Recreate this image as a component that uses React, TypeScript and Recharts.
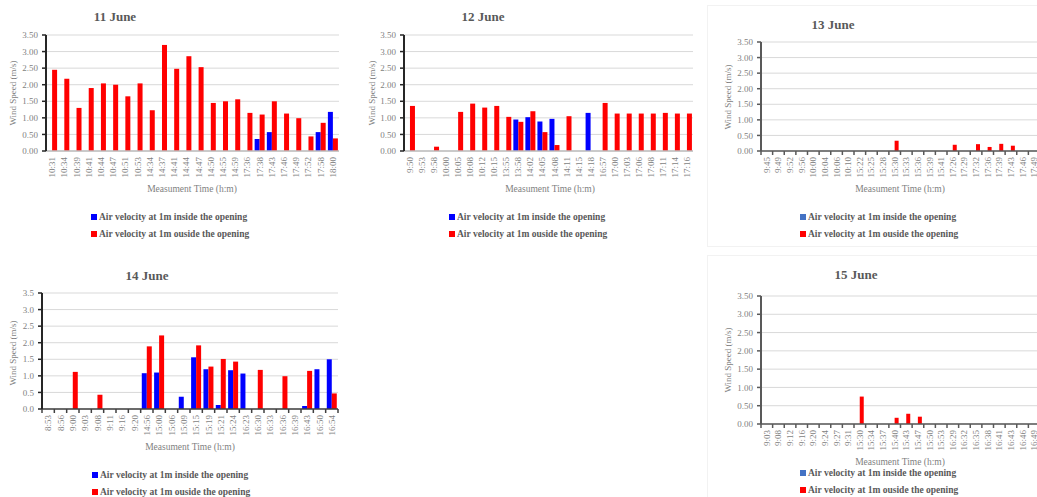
import React from 'react';
import { BarChart, Bar, XAxis, YAxis, CartesianGrid, Legend } from 'recharts';

const FONT = "'Liberation Serif', 'Times New Roman', serif";

const yTicks = [0, 0.5, 1, 1.5, 2, 2.5, 3, 3.5];

const june11Times = ['10:31', '10:34', '10:39', '10:41', '10:44', '10:47', '10:51', '10:53', '14:34', '14:37', '14:41', '14:44', '14:47', '14:50', '14:55', '14:59', '17:36', '17:38', '17:43', '17:46', '17:49', '17:52', '17:58', '18:00'];
const june11Inside = [0, 0, 0, 0, 0, 0, 0, 0, 0, 0, 0, 0, 0, 0, 0, 0, 0, 0.36, 0.57, 0, 0, 0, 0.57, 1.18];
const june11Outside = [2.45, 2.18, 1.3, 1.9, 2.04, 2.0, 1.65, 2.04, 1.23, 3.2, 2.48, 2.86, 2.53, 1.45, 1.5, 1.56, 1.15, 1.1, 1.5, 1.13, 0.99, 0.44, 0.85, 0.38];

const june12Times = ['9:50', '9:53', '9:58', '10:00', '10:05', '10:08', '10:12', '10:15', '13:55', '13:58', '14:02', '14:05', '14:08', '14:11', '14:15', '14:18', '16:57', '17:00', '17:03', '17:06', '17:08', '17:11', '17:14', '17:16'];
const june12Inside = [0, 0, 0, 0, 0, 0, 0, 0, 0, 0.95, 1.02, 0.89, 0.97, 0, 0, 1.15, 0, 0, 0, 0, 0, 0, 0, 0];
const june12Outside = [1.36, 0, 0.13, 0, 1.18, 1.43, 1.31, 1.36, 1.03, 0.88, 1.2, 0.57, 0.18, 1.05, 0, 0, 1.45, 1.13, 1.13, 1.13, 1.13, 1.15, 1.13, 1.13];

const june13Times = ['9:45', '9:49', '9:52', '9:56', '10:00', '10:04', '10:06', '10:10', '15:22', '15:25', '15:28', '15:30', '15:33', '15:36', '15:39', '15:41', '17:26', '17:29', '17:32', '17:36', '17:39', '17:43', '17:46', '17:49'];
const june13Inside = [0, 0, 0, 0, 0, 0, 0, 0, 0, 0, 0, 0, 0, 0, 0, 0, 0, 0, 0, 0, 0, 0, 0, 0];
const june13Outside = [0, 0, 0, 0, 0, 0, 0, 0, 0, 0, 0, 0.33, 0, 0, 0, 0, 0.2, 0, 0.22, 0.13, 0.23, 0.17, 0, 0];

const june14Times = ['8:53', '8:56', '9:00', '9:03', '9:08', '9:11', '9:16', '9:20', '14:56', '15:00', '15:06', '15:09', '15:15', '15:19', '15:21', '15:24', '16:23', '16:30', '16:33', '16:36', '16:39', '16:43', '16:50', '16:54'];
const june14Inside = [0, 0, 0, 0, 0, 0, 0, 0, 1.08, 1.1, 0, 0.37, 1.56, 1.2, 0.12, 1.17, 1.07, 0, 0, 0, 0, 0.09, 1.2, 1.5];
const june14Outside = [0, 0, 1.12, 0, 0.43, 0, 0, 0, 1.89, 2.22, 0, 0, 1.92, 1.28, 1.51, 1.43, 0, 1.18, 0, 0.99, 0, 1.15, 0, 0.47];

const june15Times = ['9:03', '9:08', '9:12', '9:16', '9:20', '9:24', '9:27', '9:31', '15:30', '15:34', '15:37', '15:40', '15:43', '15:47', '15:50', '15:53', '16:29', '16:32', '16:35', '16:38', '16:41', '16:43', '16:46', '16:49'];
const june15Inside = [0, 0, 0, 0, 0, 0, 0, 0, 0, 0, 0, 0, 0, 0, 0, 0, 0, 0, 0, 0, 0, 0, 0, 0];
const june15Outside = [0, 0, 0, 0, 0, 0, 0, 0, 0.75, 0, 0, 0.17, 0.28, 0.2, 0, 0, 0, 0, 0, 0, 0, 0, 0, 0];

const insideName = 'Air velocity at 1m inside the opening';
const outsideName = 'Air velocity at 1m ouside the opening';

type PanelProps = {
  left: number;
  top: number;
  width: number;
  height: number;
  title: string;
  titleX: number;
  titleY: number;
  times: string[];
  inside: number[];
  outside: number[];
  axisX: number;
  plotTop: number;
  plotBottom: number;
  plotRight: number;
  decimals: number;
  xTitleX: number;
  xTitleY: number;
  yTitleX: number;
  yTitleY: number;
  legendX: number;
  legendY: number;
  insideColor: string;
  legendInsideColor: string;
  xTickMarks: boolean;
  xAxisColor: string;
  yAxisColor: string;
  catGap: string;
  border: boolean;
};

const textGray = '#7f7f7f';

function Panel(p: PanelProps) {
  const data = p.times.map((t, i) => ({ time: t, inside: p.inside[i], outside: p.outside[i] }));
  const n = p.times.length;
  const bw = (p.plotRight - p.axisX) / n;
  const xAxisH = 30;

  const XTick = (props: any) => {
    const { x, y, payload, index } = props;
    const ty = y + 6;
    return (
      <g>
        {p.xTickMarks && (
          <line x1={x - bw / 2} x2={x - bw / 2} y1={y} y2={y + 4} stroke={p.xAxisColor} strokeWidth={1.5} />
        )}
        {p.xTickMarks && index === n - 1 && (
          <line x1={x + bw / 2} x2={x + bw / 2} y1={y} y2={y + 4} stroke={p.xAxisColor} strokeWidth={1.5} />
        )}
        <text
          x={x}
          y={ty}
          transform={`rotate(-90 ${x} ${ty})`}
          textAnchor="end"
          dominantBaseline="central"
          fontSize={9}
          fill={textGray}
          fontFamily={FONT}
        >
          {payload.value}
        </text>
      </g>
    );
  };

  const legendContent = () => (
    <div style={{ fontFamily: FONT, fontSize: 9.5, fontWeight: 'bold', color: '#595959', whiteSpace: 'nowrap' }}>
      {[
        { c: p.legendInsideColor, t: insideName },
        { c: '#FF0000', t: outsideName },
      ].map((it) => (
        <div key={it.t} style={{ height: 17, display: 'flex', alignItems: 'center' }}>
          <span style={{ display: 'inline-block', width: 6, height: 6, background: it.c, marginRight: 2 }} />
          <span>{it.t}</span>
        </div>
      ))}
    </div>
  );

  return (
    <div style={{ position: 'absolute', left: p.left, top: p.top, width: p.width, height: p.height }}>
      {p.border && (
        <div
          style={{
            position: 'absolute',
            left: 0,
            top: 0,
            width: p.width + 20,
            height: p.height - 1,
            border: '1px solid #f2f2f2',
            boxSizing: 'border-box',
          }}
        />
      )}
      <BarChart
        width={p.width}
        height={p.height}
        data={data}
        margin={{ top: p.plotTop, right: p.width - p.plotRight, left: 0, bottom: p.height - p.plotBottom - xAxisH }}
        barGap={0}
        barCategoryGap={p.catGap}
      >
        <CartesianGrid vertical={false} stroke="#d9d9d9" strokeWidth={1} />
        <XAxis
          dataKey="time"
          interval={0}
          height={xAxisH}
          tickLine={false}
          tickSize={0}
          tickMargin={0}
          axisLine={{ stroke: p.xAxisColor, strokeWidth: 1.5 }}
          tick={<XTick />}
        />
        <YAxis
          width={p.axisX}
          domain={[0, 3.5]}
          ticks={yTicks}
          interval={0}
          tickFormatter={(v: number) => v.toFixed(p.decimals)}
          tick={{ fontSize: 9, fill: textGray, fontFamily: FONT }}
          tickSize={4}
          tickMargin={4}
          tickLine={{ stroke: p.yAxisColor, strokeWidth: 1.5 }}
          axisLine={{ stroke: p.yAxisColor, strokeWidth: 2 }}
        />
        <Legend
          layout="vertical"
          align="center"
          verticalAlign="middle"
          content={legendContent}
          wrapperStyle={{ left: p.legendX - 3, top: p.legendY - 8.5, width: 'auto' }}
        />
        <Bar dataKey="inside" name={insideName} fill={p.insideColor} isAnimationActive={false} />
        <Bar dataKey="outside" name={outsideName} fill="#FF0000" isAnimationActive={false} />
      </BarChart>
      <div
        style={{
          position: 'absolute',
          left: p.titleX,
          top: p.titleY,
          transform: 'translate(-50%, -50%)',
          fontFamily: FONT,
          fontWeight: 'bold',
          fontSize: 13,
          color: '#595959',
          whiteSpace: 'nowrap',
        }}
      >
        {p.title}
      </div>
      <div
        style={{
          position: 'absolute',
          left: p.xTitleX,
          top: p.xTitleY,
          transform: 'translate(-50%, -50%)',
          fontFamily: FONT,
          fontSize: 9.5,
          color: textGray,
          whiteSpace: 'nowrap',
        }}
      >
        Measument Time (h:m)
      </div>
      <div
        style={{
          position: 'absolute',
          left: p.yTitleX,
          top: p.yTitleY,
          transform: 'translate(-50%, -50%) rotate(-90deg)',
          fontFamily: FONT,
          fontSize: 9,
          color: textGray,
          whiteSpace: 'nowrap',
        }}
      >
        Wind Speed (m/s)
      </div>
    </div>
  );
}

export default function App() {
  return (
    <div
      style={{
        position: 'absolute',
        left: 0,
        top: 0,
        width: 1037,
        height: 497,
        overflow: 'hidden',
        background: '#ffffff',
      }}
    >
      <Panel
        left={0}
        top={0}
        width={345}
        height={250}
        title="11 June"
        titleX={115}
        titleY={17}
        times={june11Times}
        inside={june11Inside}
        outside={june11Outside}
        axisX={46}
        plotTop={35}
        plotBottom={151}
        plotRight={339}
        decimals={2}
        xTitleX={192}
        xTitleY={189}
        yTitleX={13}
        yTitleY={93}
        legendX={94}
        legendY={217}
        insideColor="#0000FF"
        legendInsideColor="#0000FF"
        xTickMarks={false}
        xAxisColor="#bfbfbf"
        yAxisColor="#262626"
        catGap="9%"
        border={false}
      />
      <Panel
        left={350}
        top={0}
        width={350}
        height={250}
        title="12 June"
        titleX={133}
        titleY={17}
        times={june12Times}
        inside={june12Inside}
        outside={june12Outside}
        axisX={54}
        plotTop={35}
        plotBottom={151}
        plotRight={343}
        decimals={2}
        xTitleX={200}
        xTitleY={189}
        yTitleX={22}
        yTitleY={93}
        legendX={102}
        legendY={217}
        insideColor="#0000FF"
        legendInsideColor="#0000FF"
        xTickMarks={false}
        xAxisColor="#bfbfbf"
        yAxisColor="#262626"
        catGap="8%"
        border={false}
      />
      <Panel
        left={707}
        top={5}
        width={345}
        height={243}
        title="13 June"
        titleX={126}
        titleY={20}
        times={june13Times}
        inside={june13Inside}
        outside={june13Outside}
        axisX={54}
        plotTop={37}
        plotBottom={146}
        plotRight={333}
        decimals={2}
        xTitleX={193}
        xTitleY={184}
        yTitleX={21}
        yTitleY={92}
        legendX={96}
        legendY={212}
        insideColor="#4472C4"
        legendInsideColor="#4472C4"
        xTickMarks={true}
        xAxisColor="#595959"
        yAxisColor="#595959"
        catGap="15%"
        border={true}
      />
      <Panel
        left={0}
        top={260}
        width={345}
        height={237}
        title="14 June"
        titleX={147}
        titleY={16}
        times={june14Times}
        inside={june14Inside}
        outside={june14Outside}
        axisX={42}
        plotTop={33}
        plotBottom={149}
        plotRight={338}
        decimals={1}
        xTitleX={190}
        xTitleY={187}
        yTitleX={13}
        yTitleY={93}
        legendX={95}
        legendY={215}
        insideColor="#0000FF"
        legendInsideColor="#0000FF"
        xTickMarks={true}
        xAxisColor="#404040"
        yAxisColor="#262626"
        catGap="9%"
        border={false}
      />
      <Panel
        left={707}
        top={255}
        width={345}
        height={245}
        title="15 June"
        titleX={149}
        titleY={20}
        times={june15Times}
        inside={june15Inside}
        outside={june15Outside}
        axisX={54}
        plotTop={41}
        plotBottom={169}
        plotRight={333}
        decimals={2}
        xTitleX={193}
        xTitleY={207}
        yTitleX={21}
        yTitleY={105}
        legendX={96}
        legendY={218}
        insideColor="#4472C4"
        legendInsideColor="#4472C4"
        xTickMarks={true}
        xAxisColor="#595959"
        yAxisColor="#595959"
        catGap="15%"
        border={true}
      />
    </div>
  );
}
